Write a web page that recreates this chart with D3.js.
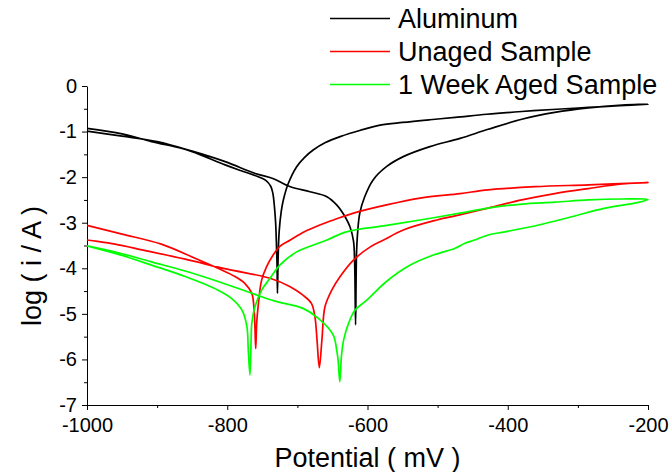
<!DOCTYPE html>
<html>
<head>
<meta charset="utf-8">
<script src="https://cdn.jsdelivr.net/npm/d3@7"></script>
<style>
  body { margin: 0; background: #fff; }
  svg { display: block; font-family: "Liberation Sans", Arial, sans-serif; }
  .axis path, .axis line { stroke: #000; stroke-width: 1; }
  .axis text { font-size: 20px; fill: #000; }
</style>
</head>
<body>
<div id="chart"></div>
<script>
// Each series is one polarization scan: forward from -1000 to -200 mV, then back.
// Points are [potential (mV), log(i / A)].
const aluminum = [
  [-1000, -0.93], [-950, -1.05], [-908, -1.22], [-867, -1.36], [-850, -1.44],
  [-803, -1.73], [-780, -1.86], [-756, -1.99], [-745, -2.07], [-738, -2.2],
  [-735, -2.35], [-733, -2.6], [-731, -3.0], [-730, -3.4], [-729, -3.9],
  [-728.4, -4.55], [-727.5, -3.8], [-726, -3.2], [-723, -2.75], [-720, -2.5],
  [-713, -2.14], [-701, -1.77], [-690, -1.57], [-677, -1.4], [-660, -1.24],
  [-639, -1.11], [-610, -0.97], [-582, -0.86], [-550, -0.8], [-511, -0.74],
  [-475, -0.69], [-430, -0.62], [-380, -0.56], [-330, -0.51], [-285, -0.47],
  [-240, -0.43], [-200, -0.4],
  [-237, -0.42], [-285, -0.48], [-333, -0.58], [-380, -0.73], [-428, -0.95],
  [-468, -1.15], [-511, -1.33], [-549, -1.55], [-573, -1.77], [-592, -2.06],
  [-604, -2.43], [-611, -2.79], [-614, -3.2], [-615.7, -3.7], [-617, -5.24],
  [-618.3, -3.9], [-620, -3.4], [-625, -3.09], [-632, -2.87], [-644, -2.61],
  [-658, -2.43], [-682, -2.32], [-710, -2.21], [-735, -2.03], [-760, -1.92],
  [-803, -1.66], [-850, -1.43], [-900, -1.22], [-950, -1.1], [-1000, -0.99],
];

const unaged = [
  [-1000, -3.06], [-950, -3.25], [-894, -3.47], [-846, -3.78], [-810, -4.02],
  [-789, -4.18], [-775, -4.33], [-765, -4.55], [-762, -4.85], [-760.5, -5.3],
  [-759.4, -5.76], [-758, -5.2], [-756, -4.84], [-751, -4.26], [-744, -3.97],
  [-735, -3.72], [-725, -3.52], [-710, -3.38], [-690, -3.2], [-668, -3.05],
  [-645, -2.92], [-620, -2.79], [-573, -2.61], [-525, -2.46], [-468, -2.36],
  [-428, -2.28], [-361, -2.21], [-285, -2.17], [-200, -2.12],
  [-237, -2.15], [-285, -2.25], [-333, -2.36], [-380, -2.5], [-428, -2.68],
  [-475, -2.85], [-501, -2.94], [-549, -3.16], [-577, -3.38], [-596, -3.53],
  [-620, -3.82], [-639, -4.18], [-651, -4.48], [-660.6, -4.84], [-665, -5.57],
  [-668.7, -6.18], [-672, -5.57], [-675, -5.06], [-680, -4.77], [-692, -4.59],
  [-711, -4.4], [-739, -4.22], [-800, -4.02], [-860, -3.8], [-920, -3.6],
  [-960, -3.47], [-985, -3.41], [-1000, -3.38],
];

const weekAged = [
  [-1000, -3.51], [-950, -3.72], [-908, -3.93], [-860, -4.18], [-813, -4.48],
  [-794, -4.66], [-779, -4.92], [-772, -5.28], [-770, -5.79], [-767.6, -6.34],
  [-766, -5.6], [-765, -5.21], [-760.4, -4.84], [-751, -4.48], [-739, -4.22],
  [-725, -3.93], [-701, -3.64], [-677, -3.49], [-658, -3.38], [-630, -3.2],
  [-577, -3.07], [-525, -2.94], [-468, -2.79], [-428, -2.68], [-380, -2.59],
  [-333, -2.55], [-285, -2.5], [-237, -2.48], [-200, -2.49],
  [-219, -2.57], [-261, -2.68], [-309, -2.87], [-356, -3.05], [-404, -3.2],
  [-428, -3.27], [-447, -3.38], [-461, -3.45], [-475, -3.56], [-506, -3.71],
  [-539, -3.93], [-573, -4.29], [-601, -4.7], [-618, -4.92], [-627, -5.21],
  [-634, -5.57], [-637, -5.9], [-639.5, -6.49], [-642, -6.0], [-644, -5.79],
  [-649, -5.46], [-670, -5.1], [-692, -4.88], [-732, -4.72], [-770, -4.52],
  [-813, -4.29], [-860, -4.06], [-908, -3.86], [-950, -3.68], [-1000, -3.51],
];

const seriesNames = ["Aluminum", "Unaged Sample", "1 Week Aged Sample"];
const seriesColors = ["#000000", "#ff0000", "#00ff00"];
const seriesData = [aluminum, unaged, weekAged];

const xTicks = [-1000, -800, -600, -400, -200];
const yTicks = [0, -1, -2, -3, -4, -5, -6, -7];

const width = 672;
const height = 472;
const margin = { top: 86, right: 24, bottom: 67, left: 87 };

const svg = d3
  .select("#chart")
  .append("svg")
  .attr("width", width)
  .attr("height", height)
  .attr("viewBox", [0, 0, width, height]);

const x = d3.scaleLinear([-1000, -200], [margin.left, width - margin.right]);
const y = d3.scaleLinear([-7, 0], [height - margin.bottom, margin.top]);

// plain hyphen minus, as in the original figure
const label = (d) => String(d);

// x axis: major ticks with labels, minor ticks halfway between
svg
  .append("g")
  .attr("class", "axis")
  .attr("transform", `translate(0,${y(-7)})`)
  .call(
    d3.axisBottom(x).tickValues(xTicks).tickFormat(label)
      .tickSize(5).tickPadding(8).tickSizeOuter(0)
  );

svg
  .append("g")
  .attr("class", "axis")
  .attr("transform", `translate(0,${y(-7)})`)
  .call(d3.axisBottom(x).tickValues([-900, -700, -500, -300]).tickSize(3).tickFormat(""))
  .call((g) => g.select(".domain").remove());

// y axis
svg
  .append("g")
  .attr("class", "axis")
  .attr("transform", `translate(${x(-1000)},0)`)
  .call(
    d3.axisLeft(y).tickValues(yTicks).tickFormat(label)
      .tickSize(5).tickPadding(5).tickSizeOuter(0)
  );

svg
  .append("g")
  .attr("class", "axis")
  .attr("transform", `translate(${x(-1000)},0)`)
  .call(d3.axisLeft(y).tickValues(d3.range(-6.5, 0, 1)).tickSize(3).tickFormat(""))
  .call((g) => g.select(".domain").remove());

// axis titles
svg
  .append("text")
  .attr("x", (x(-1000) + x(-200)) / 2)
  .attr("y", 467)
  .attr("text-anchor", "middle")
  .attr("font-size", 27)
  .text("Potential ( mV )");

svg
  .append("text")
  .attr("transform", `translate(41,266) rotate(-90)`)
  .attr("text-anchor", "middle")
  .attr("font-size", 27)
  .text("log ( i / A )");

// curves, smoothed through the read points
const line = d3
  .line()
  .curve(d3.curveCatmullRom.alpha(0.5))
  .x((d) => x(d[0]))
  .y((d) => y(d[1]));

svg
  .append("g")
  .selectAll("path")
  .data(seriesData)
  .join("path")
  .attr("fill", "none")
  .attr("stroke", (d, i) => seriesColors[i])
  .attr("stroke-width", 1.7)
  .attr("stroke-linejoin", "round")
  .attr("d", line);

// legend
const legend = svg
  .append("g")
  .selectAll("g")
  .data(seriesNames)
  .join("g")
  .attr("transform", (d, i) => `translate(330,${18.5 + i * 33})`);

legend
  .append("line")
  .attr("x1", 0)
  .attr("x2", 60)
  .attr("stroke", (d, i) => seriesColors[i])
  .attr("stroke-width", 1.7);

legend
  .append("text")
  .attr("x", 68)
  .attr("y", 9.5)
  .attr("font-size", 27)
  .text((d) => d);
</script>
</body>
</html>
